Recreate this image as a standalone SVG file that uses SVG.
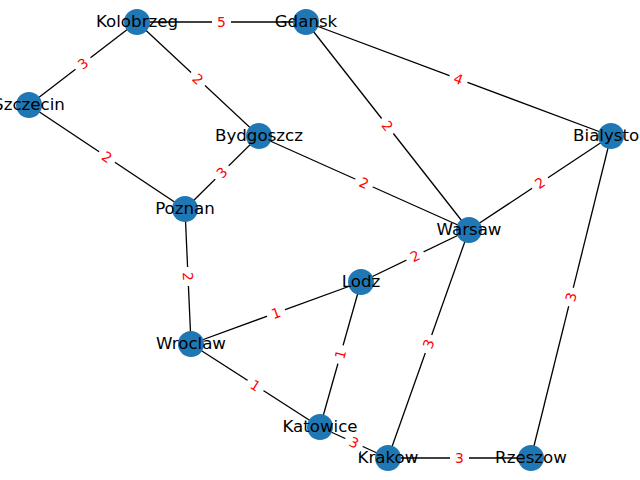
<svg xmlns="http://www.w3.org/2000/svg" width="640" height="480" viewBox="0 0 640 480">
<style>
.e{stroke:#000;stroke-width:1.3;fill:none}
.n{fill:#1f77b4}
.t{font-family:"DejaVu Sans",sans-serif;font-size:16.67px;fill:#000;text-anchor:middle;dominant-baseline:central}
.lb rect{fill:#fff}
.lb text{font-family:"DejaVu Sans",sans-serif;font-size:13.9px;fill:#ff0000;text-anchor:middle;dominant-baseline:central}
</style>
<rect width="640" height="480" fill="#fff"/>
<g id="edges">
<line class="e" x1="137" y1="22" x2="306" y2="22"/>
<line class="e" x1="137" y1="22" x2="29" y2="105"/>
<line class="e" x1="137" y1="22" x2="259" y2="136"/>
<line class="e" x1="306" y1="22" x2="469" y2="230"/>
<line class="e" x1="306" y1="22" x2="611" y2="136"/>
<line class="e" x1="29" y1="105" x2="185" y2="209"/>
<line class="e" x1="259" y1="136" x2="185" y2="209"/>
<line class="e" x1="259" y1="136" x2="469" y2="230"/>
<line class="e" x1="611" y1="136" x2="469" y2="230"/>
<line class="e" x1="611" y1="136" x2="531" y2="458"/>
<line class="e" x1="185" y1="209" x2="191" y2="344"/>
<line class="e" x1="469" y1="230" x2="361" y2="282"/>
<line class="e" x1="469" y1="230" x2="388" y2="458"/>
<line class="e" x1="361" y1="282" x2="191" y2="344"/>
<line class="e" x1="361" y1="282" x2="320" y2="427"/>
<line class="e" x1="191" y1="344" x2="320" y2="427"/>
<line class="e" x1="320" y1="427" x2="388" y2="458"/>
<line class="e" x1="388" y1="458" x2="531" y2="458"/>
</g>
<g id="Kolobrzeg"><circle class="n" cx="137" cy="22" r="13"/><text class="t" x="137" y="21">Kolobrzeg</text></g>
<g id="Gdansk"><circle class="n" cx="306" cy="22" r="13"/><text class="t" x="306" y="21">Gdansk</text></g>
<g id="Szczecin"><circle class="n" cx="29" cy="105" r="13"/><text class="t" x="29" y="104">Szczecin</text></g>
<g id="Bydgoszcz"><circle class="n" cx="259" cy="136" r="13"/><text class="t" x="259" y="135">Bydgoszcz</text></g>
<g id="Bialystok"><circle class="n" cx="611" cy="136" r="13"/><text class="t" x="611" y="135">Bialystok</text></g>
<g id="Poznan"><circle class="n" cx="185" cy="209" r="13"/><text class="t" x="185" y="208">Poznan</text></g>
<g id="Warsaw"><circle class="n" cx="469" cy="230" r="13"/><text class="t" x="469" y="229">Warsaw</text></g>
<g id="Lodz"><circle class="n" cx="361" cy="282" r="13"/><text class="t" x="361" y="281">Lodz</text></g>
<g id="Wroclaw"><circle class="n" cx="191" cy="344" r="13"/><text class="t" x="191" y="343">Wroclaw</text></g>
<g id="Katowice"><circle class="n" cx="320" cy="427" r="13"/><text class="t" x="320" y="426">Katowice</text></g>
<g id="Krakow"><circle class="n" cx="388" cy="458" r="13"/><text class="t" x="388" y="457">Krakow</text></g>
<g id="Rzeszow"><circle class="n" cx="531" cy="458" r="13"/><text class="t" x="531" y="457">Rzeszow</text></g>
<g id="edge-labels" class="lb">
<g transform="translate(221.5,22)"><rect x="-9.5" y="-9" width="19" height="18" rx="4"/><text y="0">5</text></g>
<g transform="translate(83,63.5) rotate(-37.5)"><rect x="-9.5" y="-9" width="19" height="18" rx="4"/><text y="0">3</text></g>
<g transform="translate(198,79) rotate(43.1)"><rect x="-9.5" y="-9" width="19" height="18" rx="4"/><text y="0">2</text></g>
<g transform="translate(387.5,126) rotate(51.9)"><rect x="-9.5" y="-9" width="19" height="18" rx="4"/><text y="0">2</text></g>
<g transform="translate(458.5,79) rotate(20.5)"><rect x="-9.5" y="-9" width="19" height="18" rx="4"/><text y="0">4</text></g>
<g transform="translate(107,157) rotate(33.7)"><rect x="-9.5" y="-9" width="19" height="18" rx="4"/><text y="0">2</text></g>
<g transform="translate(222,172.5) rotate(-44.6)"><rect x="-9.5" y="-9" width="19" height="18" rx="4"/><text y="0">3</text></g>
<g transform="translate(364,183) rotate(24.1)"><rect x="-9.5" y="-9" width="19" height="18" rx="4"/><text y="0">2</text></g>
<g transform="translate(540,183) rotate(-33.5)"><rect x="-9.5" y="-9" width="19" height="18" rx="4"/><text y="0">2</text></g>
<g transform="translate(571,297) rotate(-76)"><rect x="-9.5" y="-9" width="19" height="18" rx="4"/><text y="0">3</text></g>
<g transform="translate(188,276.5) rotate(87.5)"><rect x="-9.5" y="-9" width="19" height="18" rx="4"/><text y="0">2</text></g>
<g transform="translate(415,256) rotate(-25.7)"><rect x="-9.5" y="-9" width="19" height="18" rx="4"/><text y="0">2</text></g>
<g transform="translate(428.5,344) rotate(-70.4)"><rect x="-9.5" y="-9" width="19" height="18" rx="4"/><text y="0">3</text></g>
<g transform="translate(276,313) rotate(-20)"><rect x="-9.5" y="-9" width="19" height="18" rx="4"/><text y="0">1</text></g>
<g transform="translate(340.5,354.5) rotate(-74.2)"><rect x="-9.5" y="-9" width="19" height="18" rx="4"/><text y="0">1</text></g>
<g transform="translate(255.5,385.5) rotate(32.8)"><rect x="-9.5" y="-9" width="19" height="18" rx="4"/><text y="0">1</text></g>
<g transform="translate(354,442.5) rotate(24.5)"><rect x="-9.5" y="-9" width="19" height="18" rx="4"/><text y="0">3</text></g>
<g transform="translate(459.5,458)"><rect x="-9.5" y="-9" width="19" height="18" rx="4"/><text y="0">3</text></g>
</g>
</svg>
